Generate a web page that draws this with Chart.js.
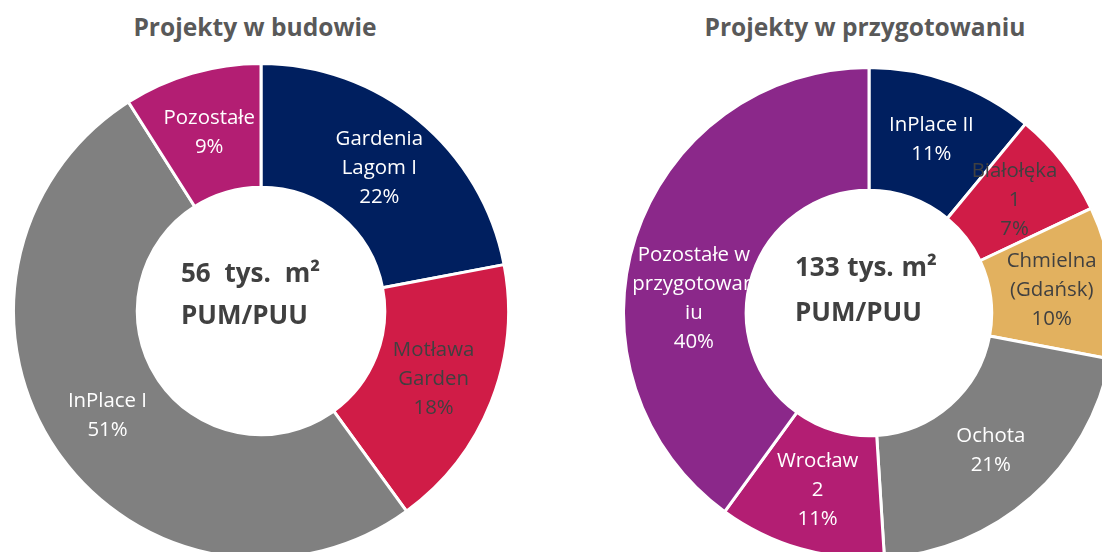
<!DOCTYPE html>
<html>
<head>
<meta charset="utf-8">
<script src="https://cdn.jsdelivr.net/npm/chart.js@4.4.1/dist/chart.umd.min.js"></script>
<style>
body { margin: 0; background: #fff; }
#page { position: relative; width: 1102px; height: 552px; overflow: hidden; font-family: 'Open Sans', sans-serif; }
.title { position: absolute; top: 15px; width: 420px; line-height: 24px; font-size: 24.6px; font-weight: bold; color: #595959; text-align: center; white-space: nowrap; }
.center { position: absolute; font-size: 26px; font-weight: bold; color: #404040; white-space: nowrap; }
canvas { position: absolute; }
</style>
</head>
<body>
<div id="page">
  <div class="title" style="left:45px;">Projekty w budowie</div>
  <div class="title" style="left:655px;">Projekty w przygotowaniu</div>
  <canvas id="buildChart" width="498" height="498" style="left:12px; top:62px;"></canvas>
  <canvas id="prepChart" width="494" height="494" style="left:622px; top:66px;"></canvas>
  <div class="center" style="left:181px; top:251px; line-height:42px;"><span style="word-spacing:7px;">56 tys. m²</span><br>PUM/PUU</div>
  <div class="center" style="left:795px; top:244px; line-height:45px;"><span style="word-spacing:1px;">133 tys. m²</span><br>PUM/PUU</div>
</div>
<script>
// Projekty w budowie
var buildCategories = ['Gardenia Lagom I', 'Motława Garden', 'InPlace I', 'Pozostałe'];
var buildLines = [['Gardenia', 'Lagom I'], ['Motława', 'Garden'], ['InPlace I'], ['Pozostałe']];
var buildShares = [22, 18, 51, 9];

// Projekty w przygotowaniu
var prepCategories = ['InPlace II', 'Białołęka 1', 'Chmielna (Gdańsk)', 'Ochota', 'Wrocław 2', 'Pozostałe w przygotowaniu'];
var prepLines = [['InPlace II'], ['Białołęka', '1'], ['Chmielna', '(Gdańsk)'], ['Ochota'], ['Wrocław', '2'], ['Pozostałe w', 'przygotowan', 'iu']];
var prepShares = [11, 7, 10, 21, 11, 40];

var NAVY = '#001F5F', RED = '#D01C47', GREY = '#808080', MAGENTA = '#B31E73', PURPLE = '#8B288A', GOLD = '#E2B15F';

// draws "name / xx%" in the middle of every slice
var sliceLabels = {
    id: 'sliceLabels',
    afterDatasetsDraw: function(chart, args, opts) {
        var ctx = chart.ctx;
        var meta = chart.getDatasetMeta(0);
        var values = chart.data.datasets[0].data;
        ctx.save();
        ctx.font = '20.4px "Open Sans"';
        ctx.textAlign = 'center';
        ctx.textBaseline = 'middle';
        for (var i = 0; i < meta.data.length; i++) {
            var p = meta.data[i].tooltipPosition();
            var lines = opts.lines[i].concat([values[i] + '%']);
            var dy = (opts.shiftY && opts.shiftY[i]) || 0;
            var top = p.y + dy - (lines.length - 1) * 29 / 2;
            ctx.fillStyle = opts.colors[i];
            for (var k = 0; k < lines.length; k++) {
                ctx.fillText(lines[k], p.x, top + k * 29);
            }
        }
        ctx.restore();
    }
};

function makeDonut(id, categories, shares, colors, lines, textColors, shiftY) {
    var ctx = document.getElementById(id);
    return new Chart(ctx, {
        type: 'doughnut',
        data: {
            labels: categories,
            datasets: [{
                data: shares,
                backgroundColor: colors,
                borderColor: '#ffffff',
                borderWidth: 3
            }]
        },
        options: {
            responsive: false,
            animation: false,
            cutout: '50%',
            layout: { padding: 0 },
            plugins: {
                legend: { display: false },
                tooltip: { enabled: false },
                sliceLabels: { lines: lines, colors: textColors, shiftY: shiftY }
            }
        },
        plugins: [sliceLabels]
    });
}

makeDonut('buildChart', buildCategories, buildShares,
    [NAVY, RED, GREY, MAGENTA], buildLines,
    ['#ffffff', '#404040', '#ffffff', '#ffffff'], null);

makeDonut('prepChart', prepCategories, prepShares,
    [NAVY, RED, GOLD, GREY, MAGENTA, PURPLE], prepLines,
    ['#ffffff', '#404040', '#404040', '#ffffff', '#ffffff', '#ffffff'], [0, 0, 0, 0, 0, 43]);
</script>
</body>
</html>
